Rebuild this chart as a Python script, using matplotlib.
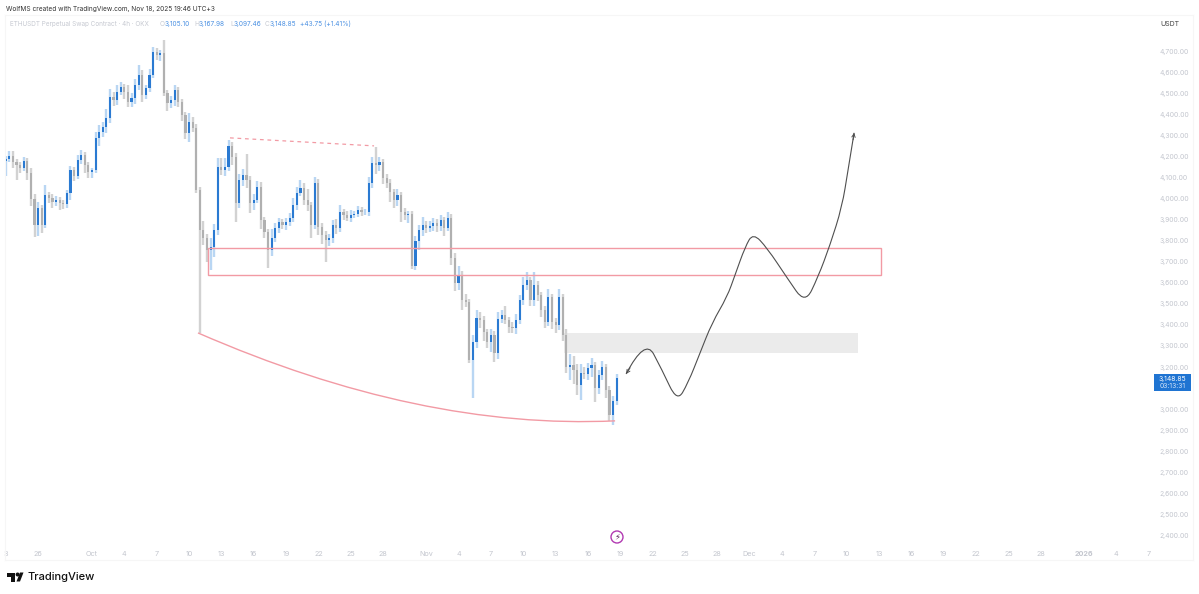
import matplotlib
matplotlib.use("Agg")
import matplotlib.pyplot as plt
import numpy as np
from matplotlib.lines import Line2D
from matplotlib.patches import Ellipse, PathPatch, Polygon, Rectangle
from matplotlib.path import Path

plt.rcParams["font.family"] = ["Inter", "DejaVu Sans"]

W, H = 1199, 594

# day numbers are counted from Oct 1, one candle every 8 hours from day -8
first_day = -8
candle_step = 1 / 3
closes = [
    4190, 4205, 4175, 4160, 4145, 4180, 4120, 4000, 3875, 3955,
    3875, 4018, 4005, 3985, 3995, 3980, 3975, 4025, 4137, 4110,
    4184, 4208, 4160, 4127, 4137, 4290, 4318, 4340, 4385, 4484,
    4470, 4508, 4531, 4508, 4460, 4480, 4541, 4588, 4493, 4527,
    4588, 4698, 4683, 4693, 4503, 4455, 4470, 4517, 4460, 4398,
    4313, 4365, 4336, 4040, 3852, 3815, 3757, 3771, 3852, 4151,
    4137, 4151, 4250, 4200, 3980, 4089, 4113, 4089, 3980, 3994,
    4056, 3899, 3842, 3757, 3814, 3861, 3889, 3875, 3889, 3908,
    3970, 4027, 4051, 3994, 3970, 3875, 4075, 3866, 3828, 3804,
    3814, 3875, 3861, 3937, 3923, 3908, 3923, 3928, 3947, 3937,
    3937, 4075, 4170, 4160, 4175, 4099, 4075, 4032, 3994, 4018,
    3937, 3923, 3928, 3680, 3800, 3852, 3875, 3861, 3870, 3885,
    3870, 3899, 3861, 3908, 3719, 3600, 3638, 3519, 3509, 3234,
    3320, 3433, 3424, 3367, 3320, 3352, 3265, 3430, 3448, 3424,
    3390, 3386, 3424, 3519, 3590, 3614, 3519, 3590, 3543, 3472,
    3414, 3533, 3414, 3400, 3533, 3352, 3200, 3210, 3186, 3115,
    3172, 3167, 3196, 3210, 3101, 3162, 3200, 3092, 2972, 3040,
    3148.85,
]
upper_wicks = [
    15, 20, 20, 15, 15, 20, 15, 25, 20, 30,
    15, 45, 15, 15, 20, 15, 15, 15, 20, 15,
    25, 25, 15, 15, 10, 25, 30, 25, 40, 35,
    25, 30, 25, 15, 30, 20, 30, 45, 25, 15,
    30, 25, 20, 15, 62, 15, 20, 25, 15, 15,
    15, 40, 25, 20, 15, 40, 15, 40, 30, 40,
    40, 40, 30, 20, 15, 30, 30, 100, 20, 30,
    30, 25, 15, 15, 40, 25, 20, 15, 20, 25,
    35, 30, 40, 25, 50, 15, 30, 20, 20, 20,
    20, 25, 30, 35, 15, 20, 25, 15, 20, 15,
    15, 30, 30, 78, 25, 15, 20, 20, 15, 30,
    15, 20, 15, 15, 25, 25, 40, 20, 25, 25,
    20, 25, 15, 30, 20, 25, 40, 20, 30, 15,
    30, 40, 30, 20, 15, 30, 20, 30, 25, 40,
    15, 25, 30, 25, 40, 38, 15, 62, 20, 15,
    20, 40, 15, 20, 40, 15, 30, 50, 40, 30,
    40, 30, 25, 35, 15, 25, 30, 15, 20, 20,
    19,
]
lower_wicks = [
    70, 15, 30, 70, 25, 15, 30, 35, 55, 50,
    40, 15, 25, 30, 20, 35, 25, 20, 30, 25,
    15, 20, 40, 30, 30, 15, 40, 25, 30, 25,
    30, 25, 15, 35, 25, 25, 30, 25, 35, 20,
    20, 15, 25, 30, 15, 40, 25, 30, 25, 30,
    30, 45, 20, 15, 490, 35, 60, 95, 50, 25,
    25, 30, 20, 40, 90, 25, 30, 40, 50, 35,
    15, 45, 30, 85, 30, 20, 25, 20, 25, 20,
    20, 25, 15, 25, 30, 60, 20, 40, 45, 104,
    30, 25, 30, 20, 25, 15, 20, 15, 15, 20,
    15, 20, 25, 45, 30, 30, 25, 50, 40, 30,
    50, 25, 40, 15, 20, 45, 30, 25, 20, 25,
    30, 25, 40, 15, 35, 40, 35, 50, 25, 15,
    180, 30, 40, 45, 30, 50, 40, 25, 20, 20,
    30, 25, 30, 20, 25, 25, 30, 30, 30, 35,
    30, 20, 35, 40, 25, 30, 30, 60, 65, 50,
    70, 25, 30, 45, 65, 30, 25, 40, 27, 50,
    20,
]
first_open = 4180

price_ticks = [4700, 4600, 4500, 4400, 4300, 4200, 4100, 4000, 3900, 3800, 3700, 3600,
               3500, 3400, 3300, 3200, 3000, 2900, 2800, 2700, 2600, 2500, 2400]
date_ticks = [-8, -5, 0, 3, 6, 9, 12, 15, 18, 21, 24, 27, 31, 34, 37, 40, 43, 46, 49, 52, 55, 58,
              61, 64, 67, 70, 73, 76, 79, 82, 85, 88, 92, 95, 98]
date_labels = ["3", "26", "Oct", "4", "7", "10", "13", "16", "19", "22", "25", "28", "Nov", "4", "7",
               "10", "13", "16", "19", "22", "25", "28", "Dec", "4", "7", "10", "13", "16", "19",
               "22", "25", "28", "2026", "4", "7"]

# drawings on the chart
dash_days = [12.80, 26.16]
dash_prices = [4289, 4251]
red_box_days = [10.76, 73.19]
red_box_prices = [3636, 3766]
grey_box_days = [43.78, 71.06]
grey_box_prices = [3267, 3362]
arc_days = [9.83, 30.43, 48.52]
arc_prices = [3362, 2901, 2944]
path_days = [49.54, 51.30, 52.88, 54.27, 55.29, 56.40, 57.51, 58.91, 59.65, 60.58, 61.32,
             62.62, 64.47, 66.14, 67.35, 68.46, 69.57, 70.13, 70.69]
path_prices = [3167, 3338, 3186, 3034, 3124, 3267, 3410, 3533, 3638, 3771, 3837,
               3766, 3624, 3500, 3628, 3780, 3961, 4137, 4313]

UP = "#2a7ad2"
DOWN = "#b0b0b0"
UP_WICK = "#b9d6f3"
DOWN_WICK = "#d2d2d2"
RED = "#f29aa4"
AXIS_TEXT = "#c3c6ce"


def fx(x):
    return x / W


def fy(y):
    return 1 - y / H


def smooth_path(xs, ys):
    # quadratic spline through the midpoints of the control points
    verts = [(xs[0], ys[0])]
    codes = [Path.MOVETO]
    for i in range(1, len(xs) - 1):
        if i < len(xs) - 2:
            end = ((xs[i] + xs[i + 1]) / 2, (ys[i] + ys[i + 1]) / 2)
        else:
            end = (xs[i + 1], ys[i + 1])
        verts += [(xs[i], ys[i]), end]
        codes += [Path.CURVE3, Path.CURVE3]
    return Path(verts, codes)


fig = plt.figure(figsize=(W / 100, H / 100), dpi=100, facecolor="white")
ax = fig.add_axes([fx(5), fy(545), fx(1155) - fx(5), fy(15) - fy(545)])
ax.set_xlim(-8.07, 98.6)
ax.set_ylim(2354, 4873)
for spine in ax.spines.values():
    spine.set_visible(False)

# candles
closes = np.array(closes, dtype=float)
opens = np.concatenate([[first_open], closes[:-1]])
highs = np.maximum(opens, closes) + np.array(upper_wicks)
lows = np.minimum(opens, closes) - np.array(lower_wicks)
days = first_day + np.arange(len(closes)) * candle_step
rising = closes >= opens

ax.vlines(days[rising], lows[rising], highs[rising], color=UP_WICK, lw=1.7, zorder=2)
ax.vlines(days[~rising], lows[~rising], highs[~rising], color=DOWN_WICK, lw=1.7, zorder=2)
ax.bar(days[rising], (closes - opens)[rising], bottom=opens[rising], width=0.2, color=UP, zorder=3)
ax.bar(days[~rising], (opens - closes)[~rising], bottom=closes[~rising], width=0.2, color=DOWN, zorder=3)

# drawings
ax.plot(dash_days, dash_prices, color=RED, lw=0.9, ls=(0, (3, 3)), zorder=4)
ax.add_patch(Rectangle((red_box_days[0], red_box_prices[0]), red_box_days[1] - red_box_days[0],
                       red_box_prices[1] - red_box_prices[0], fill=False, ec=RED, lw=1.0, zorder=4))
ax.add_patch(Rectangle((grey_box_days[0], grey_box_prices[0]), grey_box_days[1] - grey_box_days[0],
                       grey_box_prices[1] - grey_box_prices[0], fc="#ebebeb", ec="none", zorder=1))
arc = Path(list(zip(arc_days, arc_prices)), [Path.MOVETO, Path.CURVE3, Path.CURVE3])
ax.add_patch(PathPatch(arc, fill=False, ec=RED, lw=1.0, zorder=4))
ax.add_patch(PathPatch(smooth_path(path_days, path_prices), fill=False, ec="#4f4f4f", lw=0.8, zorder=5))
arrow = dict(arrowstyle="->", lw=0.7, color="#4f4f4f", mutation_scale=6, shrinkA=0, shrinkB=0)
ax.annotate("", xy=(path_days[0], path_prices[0]), xytext=(49.91, 3196), arrowprops=arrow, zorder=5)
ax.annotate("", xy=(path_days[-1], path_prices[-1]), xytext=(70.6, 4280), arrowprops=arrow, zorder=5)

# axes
ax.set_xticks(date_ticks)
ax.set_xticklabels(date_labels, fontsize=5.2, color=AXIS_TEXT)
ax.get_xticklabels()[date_labels.index("2026")].set_fontweight("bold")
ax.tick_params(axis="x", length=0, pad=4)
ax.yaxis.tick_right()
ax.set_yticks(price_ticks)
ax.set_yticklabels([f"{p:,.2f}" for p in price_ticks], fontsize=4.9, color=AXIS_TEXT)
ax.tick_params(axis="y", length=0, pad=3)

# frame lines
for (x0, y0, x1, y1) in [(5, 15, 1193, 15), (5, 560, 1193, 560), (5, 15, 5, 560), (1193, 15, 1193, 560)]:
    fig.add_artist(Line2D([fx(x0), fx(x1)], [fy(y0), fy(y1)], color="#f6f6f6", lw=0.8))

# header and legend
fig.text(fx(6), fy(9), "WolfMS created with TradingView.com, Nov 18, 2025 19:46 UTC+3",
         fontsize=4.7, color="#333333", va="center")
fig.text(fx(10), fy(24), "ETHUSDT Perpetual Swap Contract · 4h · OKX", fontsize=4.6, color="#c6c9d1", va="center")
legend_bits = [(160, "O", "#c6c9d1"), (165, "3,105.10", "#4a90e2"), (194, "H", "#c6c9d1"), (199, "3,167.98", "#4a90e2"),
               (230, "L", "#c6c9d1"), (234, "3,097.46", "#4a90e2"), (265, "C", "#c6c9d1"), (270, "3,148.85", "#4a90e2"),
               (300, "+43.75 (+1.41%)", "#4a90e2")]
for x, s, c in legend_bits:
    fig.text(fx(x), fy(24), s, fontsize=4.7, color=c, va="center")
fig.text(fx(1170), fy(24), "USDT", fontsize=5.0, color="#444444", va="center", ha="center")

# last price badge
fig.add_artist(Rectangle((fx(1154), fy(391)), fx(36.5), 17 / H, transform=fig.transFigure, fc="#1f74d2", ec="none"))
fig.text(fx(1172.5), fy(378.5), "3,148.85", fontsize=4.9, color="white", ha="center", va="center")
fig.text(fx(1172.5), fy(386), "03:13:31", fontsize=4.9, color="#d5e5f8", ha="center", va="center")

# lightning mark
fig.add_artist(Ellipse((fx(617), fy(537)), 12 / W, 12 / H, transform=fig.transFigure, fc="white", ec="#b23ab2", lw=1.0))
fig.text(fx(617), fy(537), "\u26a1", fontsize=6, color="#5b1f5b", ha="center", va="center", family="DejaVu Sans")

# logo
logo = [
    [(7, 572.5), (15, 572.5), (15, 581.5), (11, 581.5), (11, 576.5), (7, 576.5)],
    [(16.5, 581.5), (20, 572.5), (23.5, 572.5), (20, 581.5)],
]
for pts in logo:
    fig.add_artist(Polygon([(fx(x), fy(y)) for x, y in pts], transform=fig.transFigure, fc="#111111", ec="none"))
fig.add_artist(Ellipse((fx(17.6), fy(574.5)), 4 / W, 4 / H, transform=fig.transFigure, fc="#111111", ec="none"))
fig.text(fx(27), fy(577), "TradingView", fontsize=8.0, color="#111111", va="center", fontweight="medium")

fig.savefig("out.png", dpi=100)
